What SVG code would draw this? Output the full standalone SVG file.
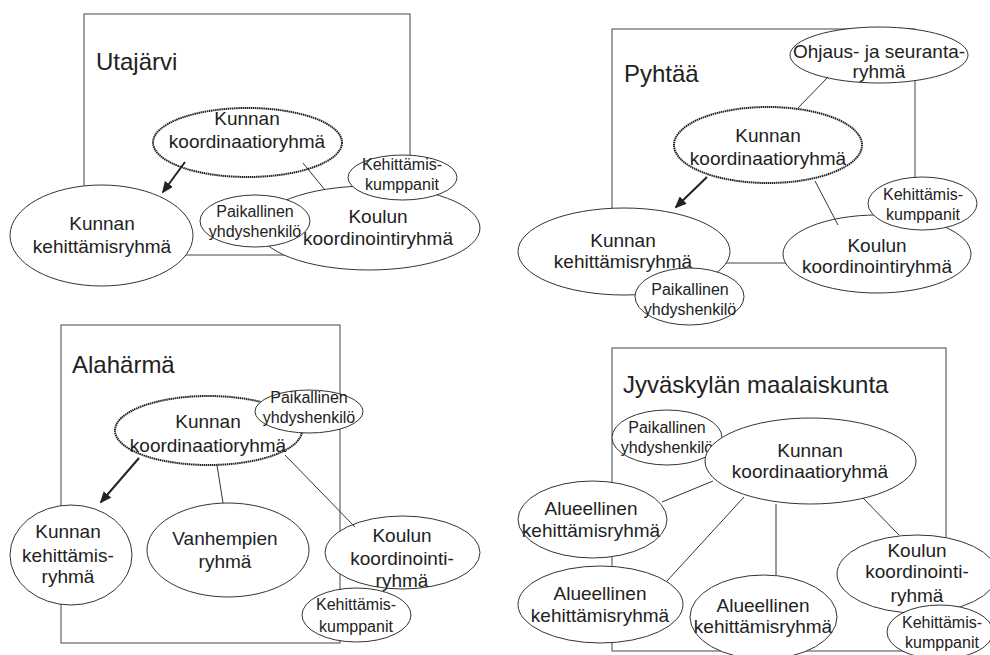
<svg xmlns="http://www.w3.org/2000/svg" width="990" height="655" viewBox="0 0 990 655">
<defs>
<style>
text{font-family:"Liberation Sans",Arial,sans-serif;fill:#222;text-anchor:middle}
.t{font-size:24px;text-anchor:start}
.m{font-size:19px}
.s{font-size:16px}
.fr{fill:none;stroke:#444;stroke-width:1}
.e{fill:#fff;stroke:#333;stroke-width:1}
.k{fill:#fff;stroke:#222;stroke-width:2;stroke-dasharray:1.5 0.6}
.c{stroke:#333;stroke-width:1;fill:none}
.a{stroke:#222;stroke-width:2;fill:none;marker-end:url(#ah)}
</style>
<marker id="ah" markerWidth="12" markerHeight="10" refX="10" refY="5" orient="auto" markerUnits="userSpaceOnUse">
<path d="M0,0 L12,5 L0,10 z" fill="#222"/>
</marker>
</defs>
<rect width="990" height="655" fill="#fff"/>

<!-- Panel 1: Utajärvi -->
<g id="p1">
<rect class="fr" x="84" y="14" width="326" height="241"/>
<text class="t" x="96" y="70">Utajärvi</text>
<g id="p1-koord"><ellipse class="k" cx="247.5" cy="142.5" rx="94.5" ry="34.5"/><text class="m" x="247" y="125">Kunnan</text><text class="m" x="247" y="148">koordinaatioryhmä</text></g>
<g id="p1-kehitys"><ellipse class="e" cx="101.5" cy="235.5" rx="91.5" ry="50.5"/><text class="m" x="102" y="230">Kunnan</text><text class="m" x="102" y="253">kehittämisryhmä</text></g>
<g id="p1-koulu"><ellipse class="e" cx="369" cy="228" rx="111" ry="42"/><text class="m" x="378" y="223">Koulun</text><text class="m" x="378" y="245">koordinointiryhmä</text></g>
<g id="p1-paik"><ellipse class="e" cx="255" cy="221" rx="55" ry="26"/><text class="s" x="255" y="217">Paikallinen</text><text class="s" x="255" y="237">yhdyshenkilö</text></g>
<g id="p1-kump"><ellipse class="e" cx="402.5" cy="177.5" rx="54.5" ry="22.5"/><text class="s" x="402" y="170">Kehittämis-</text><text class="s" x="402" y="190">kumppanit</text></g>
</g>

<!-- Panel 2: Pyhtää -->
<g id="p2">
<rect class="fr" x="612" y="29" width="303" height="234"/>
<text class="t" x="624" y="82">Pyhtää</text>
<g id="p2-ohjaus"><ellipse class="e" cx="879" cy="55" rx="89" ry="28"/><text class="m" x="879" y="58">Ohjaus- ja seuranta-</text><text class="m" x="879" y="78">ryhmä</text></g>
<g id="p2-koord"><ellipse class="k" cx="768" cy="145" rx="94" ry="38"/><text class="m" x="768" y="142">Kunnan</text><text class="m" x="768" y="165">koordinaatioryhmä</text></g>
<g id="p2-kehitys"><ellipse class="e" cx="624" cy="251.5" rx="106" ry="43.5"/><text class="m" x="623" y="247">Kunnan</text><text class="m" x="623" y="268">kehittämisryhmä</text></g>
<g id="p2-paik"><ellipse class="e" cx="689.5" cy="296.5" rx="54.5" ry="28.5"/><text class="s" x="690" y="295">Paikallinen</text><text class="s" x="690" y="315">yhdyshenkilö</text></g>
<g id="p2-koulu"><ellipse class="e" cx="877" cy="254" rx="94" ry="39"/><text class="m" x="877" y="252">Koulun</text><text class="m" x="877" y="273">koordinointiryhmä</text></g>
<g id="p2-kump"><ellipse class="e" cx="922.5" cy="203.5" rx="54.5" ry="26.5"/><text class="s" x="923" y="200">Kehittämis-</text><text class="s" x="923" y="220">kumppanit</text></g>
</g>

<!-- Panel 3: Alahärmä -->
<g id="p3">
<rect class="fr" x="61" y="325" width="279" height="318"/>
<text class="t" x="72" y="373">Alahärmä</text>
<g id="p3-koord"><ellipse class="k" cx="208.5" cy="430.5" rx="93.5" ry="34.5"/><text class="m" x="208" y="428">Kunnan</text><text class="m" x="208" y="452">koordinaatioryhmä</text></g>
<g id="p3-paik"><ellipse class="e" cx="309" cy="411.5" rx="54" ry="21.5"/><text class="s" x="309" y="403">Paikallinen</text><text class="s" x="309" y="423">yhdyshenkilö</text></g>
<g id="p3-kehitys"><ellipse class="e" cx="71" cy="555" rx="61" ry="50"/><text class="m" x="68" y="538">Kunnan</text><text class="m" x="68" y="562">kehittämis-</text><text class="m" x="68" y="583">ryhmä</text></g>
<g id="p3-vanh"><ellipse class="e" cx="228" cy="550" rx="81" ry="47"/><text class="m" x="225" y="545">Vanhempien</text><text class="m" x="225" y="568">ryhmä</text></g>
<g id="p3-koulu"><ellipse class="e" cx="402.5" cy="552.5" rx="77.5" ry="36.5"/><text class="m" x="402" y="542">Koulun</text><text class="m" x="402" y="565">koordinointi-</text><text class="m" x="402" y="587">ryhmä</text></g>
<g id="p3-kump"><ellipse class="e" cx="356.5" cy="615" rx="54.5" ry="27"/><text class="s" x="356" y="610">Kehittämis-</text><text class="s" x="356" y="632">kumppanit</text></g>
</g>

<!-- Panel 4: Jyväskylän maalaiskunta -->
<g id="p4">
<rect class="fr" x="612" y="348" width="334" height="303"/>
<text class="t" x="623" y="393">Jyväskylän maalaiskunta</text>
<g id="p4-paik"><ellipse class="e" cx="667" cy="437.5" rx="55" ry="27.5"/><text class="s" x="667" y="433">Paikallinen</text><text class="s" x="667" y="453">yhdyshenkilö</text></g>
<g id="p4-koord"><ellipse class="e" cx="810.5" cy="461" rx="105.5" ry="43"/><text class="m" x="810" y="457">Kunnan</text><text class="m" x="810" y="478">koordinaatioryhmä</text></g>
<g id="p4-alue1"><ellipse class="e" cx="592.5" cy="519.5" rx="74.5" ry="38.5"/><text class="m" x="591" y="515">Alueellinen</text><text class="m" x="591" y="537">kehittämisryhmä</text></g>
<g id="p4-alue2"><ellipse class="e" cx="600.5" cy="604.5" rx="82.5" ry="38.5"/><text class="m" x="600" y="600">Alueellinen</text><text class="m" x="600" y="622">kehittämisryhmä</text></g>
<g id="p4-alue3"><ellipse class="e" cx="763.5" cy="617" rx="73.5" ry="42"/><text class="m" x="763" y="612">Alueellinen</text><text class="m" x="763" y="633">kehittämisryhmä</text></g>
<g id="p4-koulu"><ellipse class="e" cx="917" cy="574" rx="80" ry="39"/><text class="m" x="917" y="557">Koulun</text><text class="m" x="917" y="578">koordinointi-</text><text class="m" x="917" y="602">ryhmä</text></g>
<g id="p4-kump"><ellipse class="e" cx="940" cy="632" rx="53" ry="27"/><text class="s" x="942" y="628">Kehittämis-</text><text class="s" x="942" y="648">kumppanit</text></g>
</g>

<!-- Connectors -->
<g id="connectors">
<line class="a" x1="185" y1="162" x2="163" y2="192"/>
<line class="c" x1="303" y1="163" x2="325" y2="190"/>
<line class="c" x1="828" y1="77" x2="798" y2="108"/>
<line class="c" x1="815" y1="181" x2="838" y2="225"/>
<line class="a" x1="707" y1="177" x2="676" y2="207"/>
<line class="a" x1="139" y1="458" x2="101" y2="502"/>
<line class="c" x1="217" y1="465" x2="223" y2="503"/>
<line class="c" x1="285" y1="455" x2="355" y2="527"/>
<line class="c" x1="713" y1="481" x2="662" y2="502"/>
<line class="c" x1="744" y1="497" x2="667" y2="581"/>
<line class="c" x1="776" y1="504" x2="776" y2="575"/>
<line class="c" x1="863" y1="498" x2="899" y2="535"/>
</g>
</svg>
